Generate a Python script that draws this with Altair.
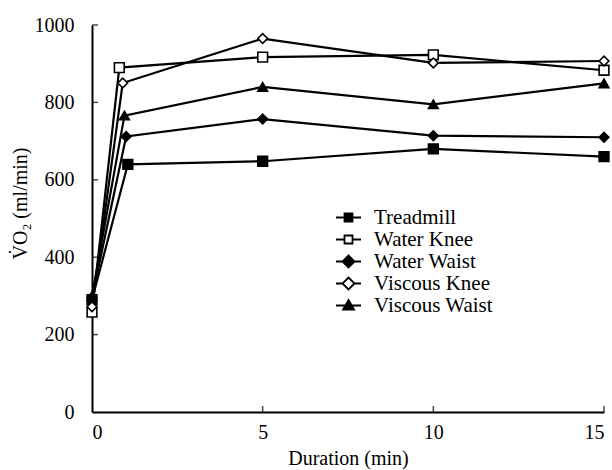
import altair as alt
import pandas as pd

# Oxygen uptake over exercise duration for five exercise conditions
series = ["Treadmill", "Water Knee", "Water Waist", "Viscous Knee", "Viscous Waist"]

treadmill_t = [0, 1.05, 5, 10, 15]
treadmill_v = [290, 640, 648, 680, 660]

water_knee_t = [0, 0.8, 5, 10, 15]
water_knee_v = [258, 890, 917, 923, 883]

water_waist_t = [0, 1.0, 5, 10, 15]
water_waist_v = [295, 712, 757, 714, 710]

viscous_knee_t = [0, 0.9, 5, 10, 15]
viscous_knee_v = [272, 850, 965, 902, 907]

viscous_waist_t = [0, 0.95, 5, 10, 15]
viscous_waist_v = [300, 766, 840, 795, 849]

x_ticks = [0, 5, 10, 15]
y_ticks = [0, 200, 400, 600, 800, 1000]

fills = ["black", "white", "black", "white", "black"]
marker_groups = [
    ("square", ["Treadmill", "Water Knee"]),
    ("diamond", ["Water Waist", "Viscous Knee"]),
    ("triangle-up", ["Viscous Waist"]),
]

# legend glyphs: marker with a short line segment on each side
SQ = "M-0.8,-0.8H0.8V0.8H-0.8Z"
DI = "M0,-1.2L1.2,0L0,1.2L-1.2,0Z"
TR = "M0,-1.1L1.1,0.8L-1.1,0.8Z"
STUB_SQ = "M-2.5,0H-0.8M0.8,0H2.5"
STUB_DI = "M-2.5,0H-1.2M1.2,0H2.5"
STUB_TR = "M-2.5,0H-0.6M0.6,0H2.5"
legend_shapes = [SQ + STUB_SQ, SQ + STUB_SQ, DI + STUB_DI, DI + STUB_DI, TR + STUB_TR]

rows = []
for name, ts, vs in [
    ("Treadmill", treadmill_t, treadmill_v),
    ("Water Knee", water_knee_t, water_knee_v),
    ("Water Waist", water_waist_t, water_waist_v),
    ("Viscous Knee", viscous_knee_t, viscous_knee_v),
    ("Viscous Waist", viscous_waist_t, viscous_waist_v),
]:
    for t, v in zip(ts, vs):
        rows.append({"series": name, "time": t, "vo2": v})
df = pd.DataFrame(rows)

FONT = "Liberation Serif"
W, H = 512, 387


def key_legend():
    return alt.Legend(
        title=None, orient="none", legendX=246, legendY=182,
        labelFont=FONT, labelFontSize=21, labelColor="black",
        labelOffset=15, rowPadding=0, symbolSize=100,
        symbolStrokeWidth=1.8, symbolOpacity=1,
    )


fill_enc = alt.Fill(
    "series:N", scale=alt.Scale(domain=series, range=fills), legend=key_legend()
)

x_enc = alt.X(
    "time:Q",
    scale=alt.Scale(domain=[0, 15], nice=False),
    axis=alt.Axis(
        values=x_ticks, format="d", ticks=False, grid=False,
        title="Duration (min)", titlePadding=6, labelPadding=10,
    ),
)
y_enc = alt.Y(
    "vo2:Q",
    scale=alt.Scale(domain=[0, 1000], nice=False),
    axis=alt.Axis(
        values=y_ticks, format="d", ticks=False, grid=False,
        title="V̇O₂ (ml/min)", titlePadding=4, labelPadding=18, titleY=178,
    ),
)

lines = alt.Chart(df).mark_line(color="black", strokeWidth=2.2).encode(
    x=x_enc, y=y_enc, detail="series:N", order="time:Q"
)

layers = [lines]
for shape, names in marker_groups:
    layers.append(
        alt.Chart(df)
        .transform_filter(alt.FieldOneOfPredicate(field="series", oneOf=names))
        .mark_point(shape=shape, stroke="black", strokeWidth=1.6, opacity=1, fillOpacity=1, size=95)
        .encode(x="time:Q", y="vo2:Q", fill=fill_enc)
    )

# legend-only layer (no rows pass the filter)
key = alt.Chart(df).transform_filter("datum.vo2 < 0").mark_point(
    opacity=1, fillOpacity=1
).encode(
    x="time:Q",
    y="vo2:Q",
    shape=alt.Shape("series:N", scale=alt.Scale(domain=series, range=legend_shapes), legend=key_legend()),
    fill=fill_enc,
    stroke=alt.Stroke("series:N", scale=alt.Scale(domain=series, range=["black"] * 5), legend=key_legend()),
)
layers.append(key)

# small inward tick marks on both axes
layers.append(
    alt.Chart(pd.DataFrame({"v": y_ticks[1:]}))
    .mark_tick(orient="horizontal", size=6, thickness=1.5, color="black")
    .encode(y="v:Q", x=alt.value(3))
)
layers.append(
    alt.Chart(pd.DataFrame({"t": x_ticks[1:]}))
    .mark_tick(orient="vertical", size=6, thickness=1.5, color="black")
    .encode(x="t:Q", y=alt.value(H - 3))
)

chart = (
    alt.layer(*layers)
    .properties(
        width=W, height=H,
        autosize=alt.AutoSizeParams(type="none"),
        padding={"left": 92, "top": 25, "right": 8, "bottom": 58},
        background="white",
    )
    .configure_view(stroke=None)
    .configure_axis(
        labelFont=FONT, labelFontSize=20, labelColor="black",
        titleFont=FONT, titleFontSize=20, titleColor="black",
        titleFontWeight="normal", domainColor="black", domainWidth=2,
    )
)

chart.save("out.html", embed_options={"renderer": "svg", "actions": False})
